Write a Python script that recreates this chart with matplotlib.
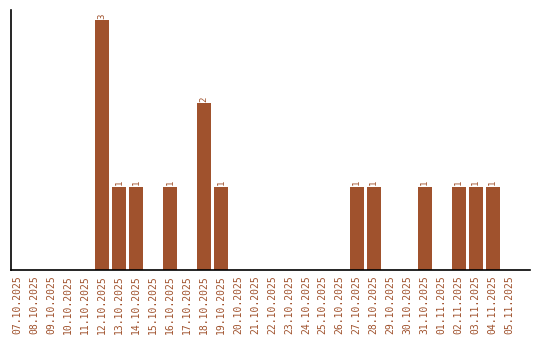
import matplotlib
matplotlib.use("Agg")
import matplotlib.pyplot as plt

dates = ["07.10.2025", "08.10.2025", "09.10.2025", "10.10.2025", "11.10.2025",
         "12.10.2025", "13.10.2025", "14.10.2025", "15.10.2025", "16.10.2025",
         "17.10.2025", "18.10.2025", "19.10.2025", "20.10.2025", "21.10.2025",
         "22.10.2025", "23.10.2025", "24.10.2025", "25.10.2025", "26.10.2025",
         "27.10.2025", "28.10.2025", "29.10.2025", "30.10.2025", "31.10.2025",
         "01.11.2025", "02.11.2025", "03.11.2025", "04.11.2025", "05.11.2025"]
counts = [0, 0, 0, 0, 0, 3, 1, 1, 0, 1, 0, 2, 1, 0, 0, 0, 0, 0, 0, 0,
          1, 1, 0, 0, 1, 0, 1, 1, 1, 0]

color = "#A0522D"
plt.rcParams['font.family'] = ['DejaVu Sans Mono', 'DejaVu Sans']

fig = plt.figure(figsize=(5.4, 3.4), dpi=100)
ax = fig.add_axes([11/540, 70/340, 519/540, 260/340])
x = list(range(len(dates)))
bars = ax.bar(x, counts, width=0.82, color=color)
for xi, c in zip(x, counts):
    if c > 0:
        ax.text(xi, c + 0.015, str(c), rotation=90, ha='center', va='bottom',
                fontsize=6.5, color=color)
ax.set_xlim(-0.36, 30.2)
ax.set_ylim(0, 3.12)
ax.set_xticks(x)
ax.set_xticklabels(dates, rotation=90, fontsize=7, color=color)
ax.tick_params(axis='x', length=0, pad=3.5)
ax.set_yticks([])
ax.spines['top'].set_visible(False)
ax.spines['right'].set_visible(False)
ax.spines['left'].set_linewidth(1.2)
ax.spines['bottom'].set_linewidth(1.2)
fig.savefig("out.png", dpi=100)
